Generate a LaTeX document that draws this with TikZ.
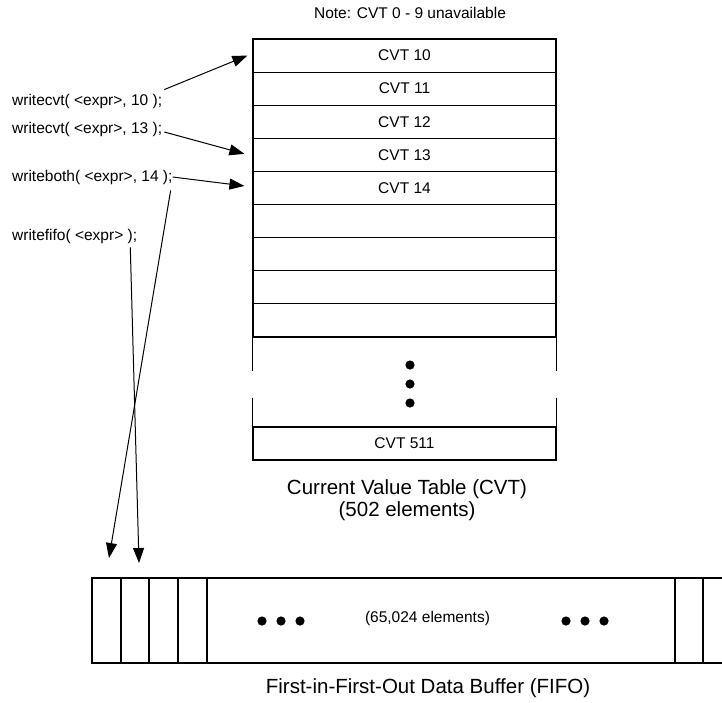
\documentclass[tikz,border=0pt]{standalone}
\usepackage{fontspec}
\setmainfont{Liberation Sans}
\usetikzlibrary{positioning,calc,arrows.meta}

\begin{document}
\begin{tikzpicture}[x=1pt, y=-1pt,
  cell/.style={draw, line width=1.2pt, minimum width=303pt, minimum height=33.1pt, inner sep=0pt, font=\fontsize{15.5}{18}\selectfont},
  slot/.style={draw, line width=1.2pt, minimum height=85pt, inner sep=0pt, outer sep=0pt},
  code/.style={anchor=west, inner sep=0pt, font=\fontsize{15.5}{18}\selectfont},
  feed/.style={line width=1pt, -{Triangle[length=15pt, width=11pt]}}]
  \useasboundingbox (0,0) rectangle (722,702);

  % Current value table
  \node[font=\fontsize{15.5}{18}\selectfont] (note) at (410, 13) {Note: CVT 0 - 9 unavailable};
  \foreach \n [evaluate=\n as \k using int(10+\n)] in {0,...,8} {
    \node[cell] (cvt\k) at (404.5, {55.55+33.1*\n}) {\ifnum\n<5 CVT \k\fi};
  }
  \node[cell] (cvt511) at (404.5, 443.5) {CVT 511};
  \draw[line width=1.2pt] (cvt18.south west) -- ++(0, 33);
  \draw[line width=1.2pt] (cvt18.south east) -- ++(0, 33);
  \draw[line width=1.2pt] (cvt511.north west) -- ++(0, -28);
  \draw[line width=1.2pt] (cvt511.north east) -- ++(0, -28);
  \foreach \y in {365, 384, 403} \fill (410, \y) circle (4.6pt);
  \node[align=center, font=\fontsize{20.5}{22}\selectfont] (cvtcap) at (407, 500) {Current Value Table (CVT)\\(502 elements)};

  % FIFO buffer
  \node[slot, minimum width=29pt] (slot1) at (106.5, 620.5) {};
  \node[slot, minimum width=28pt] (slot2) at (135, 620.5) {};
  \node[slot, minimum width=29pt] (slot3) at (163.5, 620.5) {};
  \node[slot, minimum width=29pt] (slot4) at (192.5, 620.5) {};
  \node[slot, minimum width=468pt] (slot5) at (441, 620.5) {};
  \node[slot, minimum width=28pt] (slot6) at (689, 620.5) {};
  \draw[line width=1.2pt] (slot6.north east) -- (740, 578);
  \draw[line width=1.2pt] (slot6.south east) -- (740, 663);
  \foreach \x in {262, 281, 300, 566, 585, 604} \fill (\x, 621) circle (4.6pt);
  \node[font=\fontsize{15.5}{18}\selectfont] (fifonum) at (427.5, 618) {(65,024 elements)};
  \node[font=\fontsize{20.5}{22}\selectfont] (fifocap) at (428, 688) {First-in-First-Out Data Buffer (FIFO)};

  % Write calls
  \node[code] (wcvtA) at (12, 101) {writecvt( <expr>, 10 );};
  \node[code] (wcvtB) at (12, 129) {writecvt( <expr>, 13 );};
  \node[code] (wboth) at (12, 177) {writeboth( <expr>, 14 );};
  \node[code] (wfifo) at (12, 236) {writefifo( <expr> );};

  \draw[feed] ($(wcvtA.north east)+(2, -4)$) -- ([xshift=-5pt]cvt10.west);
  \draw[feed] ($(wcvtB.east)+(2, 3)$) -- ($(cvt13.west)+(-8, -1)$);
  \draw[feed] (wboth.east) -- ($(cvt14.west)+(-8, -2)$);
  \draw[feed] ($(wboth.south east)+(-2, 6)$) -- ($(slot1.north)+(2.5, -20)$);
  \draw[feed] ($(wfifo.south east)+(-7, 4)$) -- ($(slot2.north)+(4, -15)$);
\end{tikzpicture}
\end{document}
